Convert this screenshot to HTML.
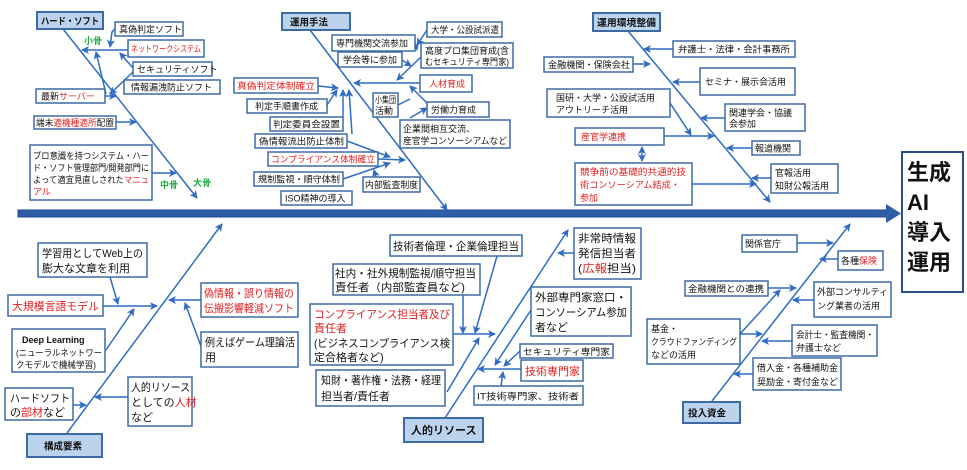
<!DOCTYPE html>
<html><head><meta charset="utf-8"><style>
html,body{margin:0;padding:0;background:#fff;}
svg{display:block;}
text{font-family:"Liberation Sans","Noto Sans CJK JP",sans-serif;fill:#111;}
.s{font-size:9px;}
.m{font-size:11px;}
.r{fill:#e02020;}
.g{fill:#22aa44;font-size:9px;font-weight:bold;}
.b{fill:#fff;stroke:#3d6aa5;stroke-width:1.5;}
.h{fill:#bcd3ee;stroke:#3d6aa5;stroke-width:2;}
.hb{font-size:9.5px;font-weight:bold;}
.l{stroke:#2f6cc2;stroke-width:1.5;fill:none;}
</style></head><body>
<svg width="967" height="470" viewBox="0 0 967 470" xmlns="http://www.w3.org/2000/svg">
<defs>
<marker id="a" markerWidth="8" markerHeight="8" refX="7" refY="4" orient="auto" markerUnits="userSpaceOnUse"><path d="M0,0 L8,4 L0,8 L2,4 Z" fill="#2f6cc2"/></marker>
<marker id="a2" markerWidth="8" markerHeight="8" refX="1" refY="4" orient="auto" markerUnits="userSpaceOnUse"><path d="M8,0 L0,4 L8,8 L6,4 Z" fill="#2f6cc2"/></marker>
</defs>
<rect x="0" y="0" width="967" height="470" fill="#fff"/>

<!-- spine -->
<rect x="18" y="210" width="872" height="7" fill="#2e5ea8" stroke="#1f4a8a" stroke-width="1"/>
<path d="M886,204 L901,213.5 L886,223 Z" fill="#2e5ea8"/>
<rect x="902" y="152" width="61" height="140" fill="#fff" stroke="#2a4f88" stroke-width="2"/>
<text x="907" y="180" style="font-size:22px;font-weight:bold">生成</text>
<text x="907" y="210" style="font-size:22px;font-weight:bold">AI</text>
<text x="907" y="240" style="font-size:22px;font-weight:bold">導入</text>
<text x="907" y="270" style="font-size:22px;font-weight:bold">運用</text>

<!-- ハード・ソフト -->
<line class="l" x1="63" y1="29" x2="197" y2="198" marker-end="url(#a)"/>
<rect class="h" x="37" y="12" width="66" height="17"/><text class="hb" x="41" y="24.5" textLength="58" lengthAdjust="spacingAndGlyphs">ハード・ソフト</text>
<line class="l" x1="128" y1="50" x2="82" y2="50" marker-end="url(#a)"/>
<polyline class="l" points="115,29 112,32 110,47" marker-end="url(#a)"/>
<line class="l" x1="133" y1="68" x2="120" y2="53" marker-end="url(#a)"/>
<line class="l" x1="133" y1="72" x2="110" y2="94" marker-end="url(#a)"/>
<line class="l" x1="106" y1="94" x2="96" y2="52" marker-end="url(#a)"/>
<line class="l" x1="105" y1="96" x2="116" y2="96" marker-end="url(#a)"/>
<line class="l" x1="116" y1="122" x2="136" y2="122" marker-end="url(#a)"/>
<line class="l" x1="152" y1="173" x2="176" y2="173" marker-end="url(#a)"/>
<rect class="b" x="115" y="22" width="68" height="14"/><text class="s" x="119" y="32.5">真偽判定ソフト</text>
<rect class="b" x="128" y="40" width="76" height="17"/><text class="s r" x="131" y="52" textLength="70" lengthAdjust="spacingAndGlyphs">ネットワークシステム</text>
<rect class="b" x="133" y="62" width="79" height="14"/><text class="s" x="137" y="72.5">セキュリティソフト</text>
<rect class="b" x="124" y="80" width="96" height="14"/><text class="s" x="131" y="90.5">情報漏洩防止ソフト</text>
<rect class="b" x="36" y="89" width="69" height="14"/><text class="s" x="41" y="99.5">最新<tspan class="r">サーバー</tspan></text>
<rect class="b" x="34" y="116" width="82" height="13"/><text class="s" x="36" y="126" textLength="78" lengthAdjust="spacingAndGlyphs">端末<tspan class="r">適機種適所</tspan>配置</text>
<rect class="b" x="30" y="145" width="122" height="55"/>
<text class="s" x="33" y="159" textLength="116" lengthAdjust="spacingAndGlyphs">プロ意識を持つシステム・ハー</text>
<text class="s" x="33" y="171" textLength="116" lengthAdjust="spacingAndGlyphs">ド・ソフト管理部門/開発部門に</text>
<text class="s" x="33" y="183" textLength="116" lengthAdjust="spacingAndGlyphs">よって適宜見直しされた<tspan class="r">マニュ</tspan></text>
<text class="s r" x="33" y="195">アル</text>
<text class="g" x="84" y="44">小骨</text>
<text class="g" x="160" y="188">中骨</text>
<text class="g" x="193" y="186">大骨</text>

<!-- 運用手法 -->
<line class="l" x1="310" y1="30" x2="447" y2="210" marker-end="url(#a)"/>
<rect class="h" x="282" y="13" width="68" height="17"/><text class="hb" x="290" y="25.5">運用手法</text>
<line class="l" x1="420" y1="83" x2="354" y2="83" marker-end="url(#a)"/>
<line class="l" x1="318" y1="86" x2="338" y2="88" marker-end="url(#a)"/>
<line class="l" x1="327" y1="105" x2="337" y2="90" marker-end="url(#a)"/>
<line class="l" x1="343" y1="117" x2="343" y2="90" marker-end="url(#a)"/>
<line class="l" x1="352" y1="134" x2="349" y2="90" marker-end="url(#a)"/>
<line class="l" x1="378" y1="159" x2="405" y2="160" marker-end="url(#a)"/>
<line class="l" x1="347" y1="141" x2="390" y2="157" marker-end="url(#a)"/>
<line class="l" x1="343" y1="179" x2="390" y2="163" marker-end="url(#a)"/>
<line class="l" x1="376" y1="177" x2="374" y2="170" marker-end="url(#a)"/>
<line class="l" x1="427" y1="30" x2="417" y2="45" marker-end="url(#a)"/>
<line class="l" x1="415" y1="43" x2="417" y2="50" marker-end="url(#a)"/>
<line class="l" x1="421" y1="57" x2="397" y2="80" marker-end="url(#a)"/>
<line class="l" x1="402" y1="60" x2="411" y2="66" marker-end="url(#a)"/>
<line class="l" x1="398" y1="105" x2="410" y2="99"/>
<line class="l" x1="410" y1="118" x2="427" y2="108" marker-end="url(#a)"/>
<line class="l" x1="427" y1="103" x2="410" y2="86" marker-end="url(#a)"/>
<rect class="b" x="427" y="22" width="75" height="15"/><text class="s" x="431" y="33" textLength="68" lengthAdjust="spacingAndGlyphs">大学・公設試派遣</text>
<rect class="b" x="332" y="35" width="83" height="16"/><text class="s" x="336" y="46.5">専門機関交流参加</text>
<rect class="b" x="421" y="43" width="92" height="25"/><text class="s" x="425" y="54" textLength="84" lengthAdjust="spacingAndGlyphs">高度プロ集団育成(含</text><text class="s" x="425" y="65" textLength="84" lengthAdjust="spacingAndGlyphs">むセキュリティ専門家)</text>
<rect class="b" x="338" y="52" width="64" height="15"/><text class="s" x="343" y="63">学会等に参加</text>
<rect class="b" x="420" y="75" width="52" height="17"/><text class="s r" x="429" y="87">人材育成</text>
<rect class="b" x="234" y="78" width="84" height="15"/><text class="s r" x="237" y="89" textLength="78" lengthAdjust="spacingAndGlyphs">真偽判定体制確立</text>
<rect class="b" x="247" y="99" width="80" height="14"/><text class="s" x="255" y="109.5">判定手順書作成</text>
<rect class="b" x="373" y="93" width="25" height="24"/><text class="s" x="375" y="103" textLength="21" lengthAdjust="spacingAndGlyphs">小集団</text><text class="s" x="375" y="114">活動</text>
<rect class="b" x="427" y="102" width="62" height="15"/><text class="s" x="431" y="113">労働力育成</text>
<rect class="b" x="270" y="117" width="73" height="14"/><text class="s" x="273" y="127.5" textLength="67" lengthAdjust="spacingAndGlyphs">判定委員会設置</text>
<rect class="b" x="400" y="120" width="110" height="28"/><text class="s" x="403" y="132">企業間相互交流、</text><text class="s" x="403" y="144" textLength="104" lengthAdjust="spacingAndGlyphs">産官学コンソーシアムなど</text>
<rect class="b" x="255" y="134" width="92" height="14"/><text class="s" x="259" y="144.5" textLength="85" lengthAdjust="spacingAndGlyphs">偽情報流出防止体制</text>
<rect class="b" x="268" y="152" width="110" height="14"/><text class="s r" x="271" y="162.5" textLength="104" lengthAdjust="spacingAndGlyphs">コンプライアンス体制確立</text>
<rect class="b" x="254" y="172" width="89" height="14"/><text class="s" x="258" y="182.5" textLength="82" lengthAdjust="spacingAndGlyphs">規制監視・順守体制</text>
<rect class="b" x="363" y="177" width="57" height="15"/><text class="s" x="365" y="188" textLength="53" lengthAdjust="spacingAndGlyphs">内部監査制度</text>
<rect class="b" x="281" y="191" width="71" height="14"/><text class="s" x="285" y="201.5">ISO精神の導入</text>

<!-- 運用環境整備 -->
<line class="l" x1="628" y1="31" x2="770" y2="202" marker-end="url(#a)"/>
<rect class="h" x="593" y="13" width="67" height="18"/><text class="hb" x="597" y="26" textLength="59" lengthAdjust="spacingAndGlyphs">運用環境整備</text>
<line class="l" x1="673" y1="49" x2="644" y2="49" marker-end="url(#a)"/>
<line class="l" x1="633" y1="64" x2="650" y2="64" marker-end="url(#a)"/>
<line class="l" x1="700" y1="82" x2="673" y2="82" marker-end="url(#a)"/>
<line class="l" x1="725" y1="118" x2="701" y2="118" marker-end="url(#a)"/>
<line class="l" x1="670" y1="103" x2="691" y2="135" marker-end="url(#a)"/>
<line class="l" x1="664" y1="136" x2="714" y2="136" marker-end="url(#a)"/>
<line class="l" x1="752" y1="148" x2="727" y2="148" marker-end="url(#a)"/>
<line class="l" x1="771" y1="178" x2="752" y2="178" marker-end="url(#a)"/>
<line class="l" x1="692" y1="184" x2="756" y2="184" marker-end="url(#a)"/>
<line class="l" x1="642" y1="147" x2="642" y2="161" marker-start="url(#a2)" marker-end="url(#a)"/>
<rect class="b" x="673" y="41" width="122" height="16"/><text class="s" x="678" y="52.5" textLength="112" lengthAdjust="spacingAndGlyphs">弁護士・法律・会計事務所</text>
<rect class="b" x="544" y="57" width="89" height="15"/><text class="s" x="548" y="68" textLength="82" lengthAdjust="spacingAndGlyphs">金融機関・保険会社</text>
<rect class="b" x="700" y="68" width="95" height="27"/><text class="s" x="705" y="85">セミナ・展示会活用</text>
<rect class="b" x="547" y="89" width="123" height="28"/><text class="s" x="556" y="101">国研・大学・公設試活用</text><text class="s" x="556" y="113">アウトリーチ活用</text>
<rect class="b" x="725" y="104" width="80" height="27"/><text class="s" x="729" y="116">関連学会・協議</text><text class="s" x="729" y="127">会参加</text>
<rect class="b" x="575" y="128" width="89" height="17"/><text class="s r" x="581" y="140">産官学連携</text>
<rect class="b" x="752" y="141" width="48" height="14"/><text class="s" x="755" y="151.5">報道機関</text>
<rect class="b" x="575" y="163" width="117" height="42"/><text class="s r" x="580" y="175" textLength="106" lengthAdjust="spacingAndGlyphs">競争前の基礎的共通的技</text><text class="s r" x="580" y="188" textLength="100" lengthAdjust="spacingAndGlyphs">術コンソーシアム結成・</text><text class="s r" x="580" y="201">参加</text>
<rect class="b" x="771" y="164" width="67" height="29"/><text class="s" x="775" y="176">官報活用</text><text class="s" x="775" y="189">知財公報活用</text>

<!-- 構成要素 -->
<line class="l" x1="67" y1="433" x2="222" y2="224" marker-end="url(#a)"/>
<rect class="h" x="27" y="434" width="75" height="23"/><text class="hb" x="44" y="449.5">構成要素</text>
<line class="l" x1="103" y1="306" x2="157" y2="306" marker-end="url(#a)"/>
<line class="l" x1="110" y1="277" x2="118" y2="304" marker-end="url(#a)"/>
<line class="l" x1="106" y1="350" x2="134" y2="309" marker-end="url(#a)"/>
<line class="l" x1="201" y1="300" x2="169" y2="300" marker-end="url(#a)"/>
<line class="l" x1="202" y1="349" x2="185" y2="303" marker-end="url(#a)"/>
<line class="l" x1="128" y1="397" x2="95" y2="397" marker-end="url(#a)"/>
<line class="l" x1="73" y1="405" x2="86" y2="405" marker-end="url(#a)"/>
<rect class="b" x="38" y="243" width="109" height="34"/><text class="m" x="42" y="257" textLength="101" lengthAdjust="spacingAndGlyphs">学習用としてWeb上の</text><text class="m" x="42" y="272">膨大な文章を利用</text>
<rect class="b" x="8" y="295" width="95" height="21"/><text class="m r" x="12" y="310" textLength="87" lengthAdjust="spacingAndGlyphs">大規模言語モデル</text>
<rect class="b" x="201" y="283" width="97" height="34"/><text class="m r" x="204" y="297" textLength="90" lengthAdjust="spacingAndGlyphs">偽情報・誤り情報の</text><text class="m r" x="204" y="312" textLength="90" lengthAdjust="spacingAndGlyphs">伝搬影響軽減ソフト</text>
<rect class="b" x="12" y="329" width="93" height="43"/><text class="s" x="22" y="343" style="font-weight:bold">Deep Learning</text><text class="s" x="16" y="356" textLength="86" lengthAdjust="spacingAndGlyphs">(ニューラルネットワー</text><text class="s" x="16" y="368" textLength="80" lengthAdjust="spacingAndGlyphs">クモデルで機械学習)</text>
<rect class="b" x="201" y="332" width="97" height="35"/><text class="m" x="205" y="346" textLength="90" lengthAdjust="spacingAndGlyphs">例えばゲーム理論活</text><text class="m" x="205" y="361">用</text>
<rect class="b" x="128" y="377" width="64" height="49"/><text class="m" x="131" y="391" textLength="59" lengthAdjust="spacingAndGlyphs">人的リソース</text><text class="m" x="131" y="406">としての<tspan class="r">人材</tspan></text><text class="m" x="131" y="421">など</text>
<rect class="b" x="5" y="388" width="68" height="32"/><text class="m" x="10" y="402" textLength="60" lengthAdjust="spacingAndGlyphs">ハードソフト</text><text class="m" x="10" y="416">の<tspan class="r">部材</tspan>など</text>

<!-- 人的リソース -->
<line class="l" x1="445" y1="418" x2="568" y2="230" marker-end="url(#a)"/>
<line class="l" x1="447" y1="392" x2="479" y2="338" marker-end="url(#a)"/>
<rect class="h" x="404" y="418" width="79" height="24"/><text class="hb" x="411" y="434" style="font-size:11px">人的リソース</text>
<line class="l" x1="453" y1="334" x2="495" y2="334" marker-end="url(#a)"/>
<line class="l" x1="463" y1="295" x2="463" y2="333" marker-end="url(#a)"/>
<line class="l" x1="497" y1="256" x2="475" y2="333" marker-end="url(#a)"/>
<line class="l" x1="574" y1="253" x2="558" y2="253" marker-end="url(#a)"/>
<line class="l" x1="531" y1="310" x2="495" y2="365" marker-end="url(#a)"/>
<line class="l" x1="520" y1="351" x2="504" y2="366" marker-end="url(#a)"/>
<line class="l" x1="521" y1="369" x2="478" y2="369" marker-end="url(#a)"/>
<line class="l" x1="501" y1="386" x2="503" y2="372" marker-end="url(#a)"/>
<rect class="b" x="390" y="235" width="132" height="21"/><text class="m" x="393" y="250" textLength="126" lengthAdjust="spacingAndGlyphs">技術者倫理・企業倫理担当</text>
<rect class="b" x="333" y="264" width="147" height="31"/><text class="m" x="335" y="277" textLength="141" lengthAdjust="spacingAndGlyphs">社内・社外規制監視/順守担当</text><text class="m" x="335" y="291" textLength="130" lengthAdjust="spacingAndGlyphs">責任者（内部監査員など)</text>
<rect class="b" x="310" y="304" width="143" height="61"/><text class="m r" x="314" y="318" textLength="136" lengthAdjust="spacingAndGlyphs">コンプライアンス担当者及び</text><text class="m r" x="314" y="332">責任者</text><text class="m" x="314" y="347" textLength="136" lengthAdjust="spacingAndGlyphs">(ビジネスコンプライアンス検</text><text class="m" x="314" y="361">定合格者など)</text>
<rect class="b" x="316" y="370" width="129" height="36"/><text class="m" x="321" y="384" textLength="120" lengthAdjust="spacingAndGlyphs">知財・著作権・法務・経理</text><text class="m" x="321" y="400">担当者/責任者</text>
<rect class="b" x="574" y="228" width="67" height="51"/><text class="m" x="578" y="242" textLength="58" lengthAdjust="spacingAndGlyphs">非常時情報</text><text class="m" x="578" y="257" textLength="58" lengthAdjust="spacingAndGlyphs">発信担当者</text><text class="m" x="578" y="272" textLength="58" lengthAdjust="spacingAndGlyphs">(<tspan class="r">広報</tspan>担当)</text>
<rect class="b" x="531" y="287" width="100" height="49"/><text class="m" x="535" y="301" textLength="92" lengthAdjust="spacingAndGlyphs">外部専門家窓口・</text><text class="m" x="535" y="316" textLength="92" lengthAdjust="spacingAndGlyphs">コンソーシアム参加</text><text class="m" x="535" y="331">者など</text>
<rect class="b" x="520" y="344" width="93" height="14"/><text class="s" x="523" y="355" textLength="87" lengthAdjust="spacingAndGlyphs">セキュリティ専門家</text>
<rect class="b" x="521" y="360" width="62" height="21"/><text class="m r" x="525" y="375">技術専門家</text>
<rect class="b" x="474" y="386" width="109" height="19"/><text class="s" x="477" y="399.5" textLength="102" lengthAdjust="spacingAndGlyphs">IT技術専門家、技術者</text>

<!-- 投入資金 -->
<line class="l" x1="712" y1="401" x2="850" y2="224" marker-end="url(#a)"/>
<line class="l" x1="740" y1="334" x2="780" y2="290" marker-end="url(#a)"/>
<rect class="h" x="683" y="402" width="57" height="21"/><text class="hb" x="688" y="416.5">投入資金</text>
<line class="l" x1="797" y1="243" x2="833" y2="243" marker-end="url(#a)"/>
<line class="l" x1="838" y1="259" x2="820" y2="259" marker-end="url(#a)"/>
<line class="l" x1="768" y1="288" x2="796" y2="288" marker-end="url(#a)"/>
<line class="l" x1="814" y1="300" x2="793" y2="300" marker-end="url(#a)"/>
<line class="l" x1="740" y1="334" x2="762" y2="334" marker-end="url(#a)"/>
<line class="l" x1="792" y1="341" x2="762" y2="341" marker-end="url(#a)"/>
<line class="l" x1="753" y1="374" x2="734" y2="374" marker-end="url(#a)"/>
<rect class="b" x="742" y="235" width="55" height="17"/><text class="s" x="745" y="247">関係官庁</text>
<rect class="b" x="838" y="251" width="45" height="19"/><text class="s" x="841" y="264">各種<tspan class="r">保険</tspan></text>
<rect class="b" x="685" y="281" width="83" height="15"/><text class="s" x="688" y="292" textLength="76" lengthAdjust="spacingAndGlyphs">金融機関との連携</text>
<rect class="b" x="814" y="282" width="77" height="35"/><text class="s" x="817" y="295" textLength="71" lengthAdjust="spacingAndGlyphs">外部コンサルティ</text><text class="s" x="817" y="309">ング業者の活用</text>
<rect class="b" x="647" y="319" width="93" height="45"/><text class="s" x="651" y="332">基金・</text><text class="s" x="651" y="345" textLength="86" lengthAdjust="spacingAndGlyphs">クラウドファンディング</text><text class="s" x="651" y="358">などの活用</text>
<rect class="b" x="792" y="325" width="85" height="31"/><text class="s" x="796" y="338" textLength="78" lengthAdjust="spacingAndGlyphs">会計士・監査機関・</text><text class="s" x="796" y="351">弁護士など</text>
<rect class="b" x="753" y="358" width="88" height="32"/><text class="s" x="757" y="371" textLength="81" lengthAdjust="spacingAndGlyphs">借入金・各種補助金</text><text class="s" x="757" y="385" textLength="81" lengthAdjust="spacingAndGlyphs">奨励金・寄付金など</text>
</svg>
</body></html>
